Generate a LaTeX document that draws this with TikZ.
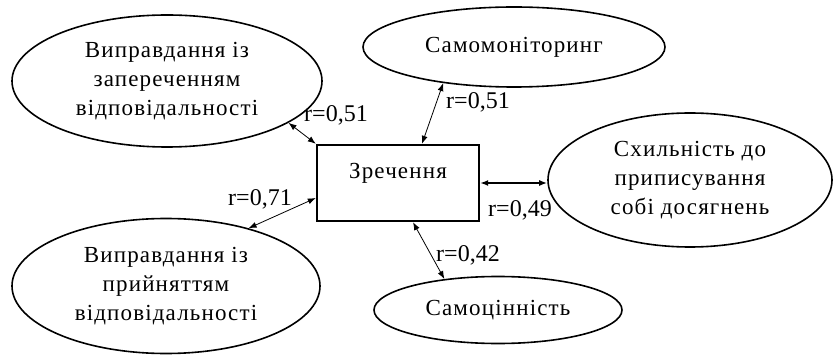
\documentclass[tikz,border=0pt]{standalone}
\usepackage{fontspec}
\setmainfont{Liberation Serif}
\newfontfamily\spacedfont[LetterSpace=5]{Liberation Serif}
\usetikzlibrary{shapes.geometric,arrows.meta}

\tikzset{
  oval/.style={ellipse, draw, line width=1.6pt, fill=white, inner sep=0pt,
    align=center, font=\spacedfont\fontsize{23}{29}\selectfont},
  box/.style={rectangle, draw, line width=2.4pt, inner sep=0pt,
    font=\spacedfont\fontsize{23}{29}\selectfont},
  link/.style={{Latex[length=8pt,width=6pt]}-{Latex[length=8pt,width=6pt]}, line width=0.8pt},
  coef/.style={inner sep=0pt, font=\fontsize{24}{28}\selectfont}
}

\begin{document}
\begin{tikzpicture}[x=1pt,y=1pt]
              \useasboundingbox (0,0) rectangle (834,356);
              \node[box, minimum width=162pt, minimum height=76pt, text height=16pt, text depth=24pt] (zrech) at (398,173) {Зречення};
              \node[oval, minimum width=310pt, minimum height=132pt] (zaper) at (167,275) {Виправдання із\\запереченням\\відповідальності};
              \node[oval, minimum width=302pt, minimum height=80pt] (samomon) at (514,309) {Самомоніторинг};
              \node[oval, minimum width=284pt, minimum height=134pt] (shyl) at (690,176) {Схильність до\\приписування\\собі досягнень};
              \node[oval, minimum width=308pt, minimum height=135pt] (pryin) at (166,70) {Виправдання із\\прийняттям\\відповідальності};
              \node[oval, minimum width=248pt, minimum height=67pt] (samots) at (498,46) {Самоцінність};
              \draw[link] (zrech.north west) -- (zaper.-19);
              \draw[link] ([xshift=24pt]zrech.north) -- (samomon.207);
              \draw[link, line width=1.5pt] (zrech.east) -- (zrech.east -| shyl.west);
              \draw[link] ([xshift=15pt]zrech.south) -- (samots.150);
              \draw[link] ([yshift=-15pt]zrech.west) -- (pryin.35);
              \node[coef] (r1) at (336,241) {r=0,51};
              \node[coef] (r2) at (478,254) {r=0,51};
              \node[coef] (r3) at (520,146) {r=0,49};
              \node[coef] (r4) at (468,101) {r=0,42};
              \node[coef] (r5) at (260,157) {r=0,71};
            \end{tikzpicture}
\end{document}
